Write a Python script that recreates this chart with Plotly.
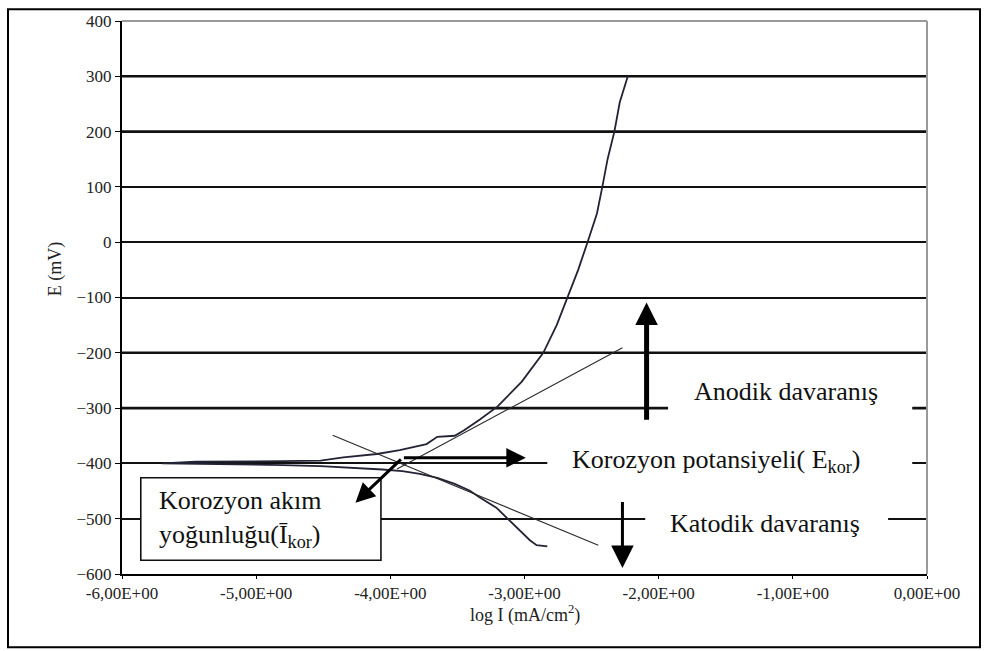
import plotly.graph_objects as go

# ---- data ----
curve_x = [-2.83, -2.91, -2.96, -3.01, -3.09, -3.13, -3.21, -3.33, -3.41, -3.52, -3.65, -3.78,
           -3.91, -4.06, -4.28, -4.52, -4.80, -5.10, -5.40, -5.70,
           -5.45, -5.10, -4.80, -4.52, -4.35, -4.10, -3.93, -3.73, -3.65, -3.52, -3.45, -3.33,
           -3.20, -3.02, -2.95, -2.86, -2.76, -2.68, -2.60, -2.53, -2.46, -2.42, -2.38, -2.33,
           -2.29, -2.23]
curve_y = [-550, -548, -539, -527, -509, -500, -480, -462, -449, -437, -426, -419,
           -414, -411, -408, -405, -403, -402, -401, -400,
           -397, -397, -396, -395, -389, -383, -376, -365, -352, -350, -340, -320,
           -297, -252, -230, -200, -150, -100, -50, 0, 52, 100, 151, 200,
           253, 300]

anodic_tangent_x = [-3.95, -2.27]
anodic_tangent_y = [-410, -191]
cathodic_tangent_x = [-4.43, -2.45]
cathodic_tangent_y = [-349, -548]

arrow_tail_x = [-3.91, -3.91, -2.09, -2.27]
arrow_tail_y = [-390, -390, -324, -467]
arrow_head_x = [-2.99, -4.26, -2.09, -2.27]
arrow_head_y = [-390, -471, -109, -589]

x_tickvals = [-6, -5, -4, -3, -2, -1, 0]
x_ticktext = ["-6,00E+00", "-5,00E+00", "-4,00E+00", "-3,00E+00",
              "-2,00E+00", "-1,00E+00", "0,00E+00"]
y_tickvals = [-600, -500, -400, -300, -200, -100, 0, 100, 200, 300, 400]
thick_grid_y = [300, 200, -200, -300]

label_texts = ["Anodik davaranış",
               "Korozyon potansiyeli( E<sub>kor</sub>)",
               "Katodik davaranış"]
label_x = [-1.05, -1.57, -1.21]
label_y = [-270, -396, -508]
# white boxes behind the labels (x0, x1, y0, y1)
label_box_x0 = [-1.93, -2.83, -2.10]
label_box_x1 = [-0.11, -0.11, -0.29]
label_box_y0 = [-324, -423, -539]
label_box_y1 = [-252, -369, -476]

box_text = "Korozyon akım<br>yoğunluğu(Ī<sub>kor</sub>)"
box_text_x = -5.74
box_text_y = -500
box_x = [-5.86, -4.07]
box_y = [-575, -426]

SERIF = "Liberation Serif"

T, B = 15, 77
PH = 651 - T - B


def py2paper(py):
    return (651 - B - py) / PH


fig = go.Figure()
fig.add_trace(go.Scatter(x=curve_x, y=curve_y, mode="lines",
                         line=dict(color="#232336", width=1.8), showlegend=False,
                         hoverinfo="skip"))
fig.add_trace(go.Scatter(x=anodic_tangent_x, y=anodic_tangent_y, mode="lines",
                         line=dict(color="#2a2a2a", width=1.1), showlegend=False))
fig.add_trace(go.Scatter(x=cathodic_tangent_x, y=cathodic_tangent_y, mode="lines",
                         line=dict(color="#2a2a2a", width=1.1), showlegend=False))

shapes = []
for gy in thick_grid_y:
    shapes.append(dict(type="line", xref="paper", yref="y", x0=0, x1=1, y0=gy, y1=gy,
                       line=dict(color="#111", width=2.6), layer="between"))
for x0, x1, y0, y1 in zip(label_box_x0, label_box_x1, label_box_y0, label_box_y1):
    shapes.append(dict(type="rect", xref="x", yref="y", x0=x0, x1=x1, y0=y0, y1=y1,
                       fillcolor="white", line=dict(width=0), layer="above"))
shapes.append(dict(type="rect", xref="x", yref="y", x0=box_x[0], x1=box_x[1],
                   y0=box_y[0], y1=box_y[1], fillcolor="white",
                   line=dict(color="#111", width=1.6), layer="above"))
# grey top/right plot border
shapes.append(dict(type="line", xref="paper", yref="paper", x0=0, x1=1, y0=1, y1=1,
                   line=dict(color="#9a9a9a", width=2), layer="above"))
shapes.append(dict(type="line", xref="paper", yref="paper", x0=1, x1=1, y0=0, y1=1,
                   line=dict(color="#9a9a9a", width=2), layer="above"))
# outer frame
shapes.append(dict(type="rect", xref="paper", yref="paper",
                   x0=(8 - 122) / 805, x1=(980 - 122) / 805,
                   y0=py2paper(648), y1=py2paper(3),
                   line=dict(color="black", width=2),
                   fillcolor="rgba(0,0,0,0)", layer="above"))

annotations = []
widths = [3, 3, 5, 3]
sizes = [1.3, 1.3, 0.9, 1.5]
for tx, ty, hx, hy, w, s in zip(arrow_tail_x, arrow_tail_y, arrow_head_x, arrow_head_y,
                                widths, sizes):
    annotations.append(dict(x=hx, y=hy, ax=tx, ay=ty, xref="x", yref="y",
                            axref="x", ayref="y", text="", showarrow=True,
                            arrowhead=2, arrowwidth=w, arrowsize=s,
                            arrowcolor="black", standoff=0))
for t, x, y in zip(label_texts, label_x, label_y):
    annotations.append(dict(x=x, y=y, xref="x", yref="y", text=t, showarrow=False,
                            font=dict(family=SERIF, size=26, color="#111")))
annotations.append(dict(x=box_text_x, y=box_text_y, xref="x", yref="y", text=box_text,
                        showarrow=False, xanchor="left", align="left",
                        font=dict(family=SERIF, size=26, color="#111")))
# axis titles
annotations.append(dict(x=(55 - 122) / 805, y=py2paper(266), xref="paper", yref="paper",
                        text="E (mV)", textangle=-90, showarrow=False,
                        xanchor="center", yanchor="middle",
                        font=dict(family=SERIF, size=18, color="#222")))
annotations.append(dict(x=0.5, y=py2paper(614), xref="paper", yref="paper",
                        text="log I (mA/cm<sup>2</sup>)", showarrow=False,
                        xanchor="center", yanchor="middle",
                        font=dict(family=SERIF, size=18, color="#222")))

fig.update_layout(
    width=987, height=651,
    margin=dict(l=122, r=60, t=T, b=B),
    paper_bgcolor="white", plot_bgcolor="white",
    shapes=shapes, annotations=annotations,
    font=dict(family=SERIF, color="#222"),
)
fig.update_xaxes(range=[-6, 0], tickvals=x_tickvals, ticktext=x_ticktext,
                 showgrid=False, zeroline=False, showline=True, linecolor="black",
                 linewidth=2, ticks="outside", ticklen=3, tickcolor="black",
                 tickfont=dict(family=SERIF, size=17, color="#222"))
fig.update_yaxes(range=[-600, 400], tickvals=y_tickvals,
                 showgrid=True, gridcolor="#111", gridwidth=1.5, zeroline=False,
                 showline=True, linecolor="black", linewidth=2, ticks="outside",
                 ticklen=5, tickcolor="black",
                 tickfont=dict(family=SERIF, size=17, color="#222"))

fig.write_html("out.html")
